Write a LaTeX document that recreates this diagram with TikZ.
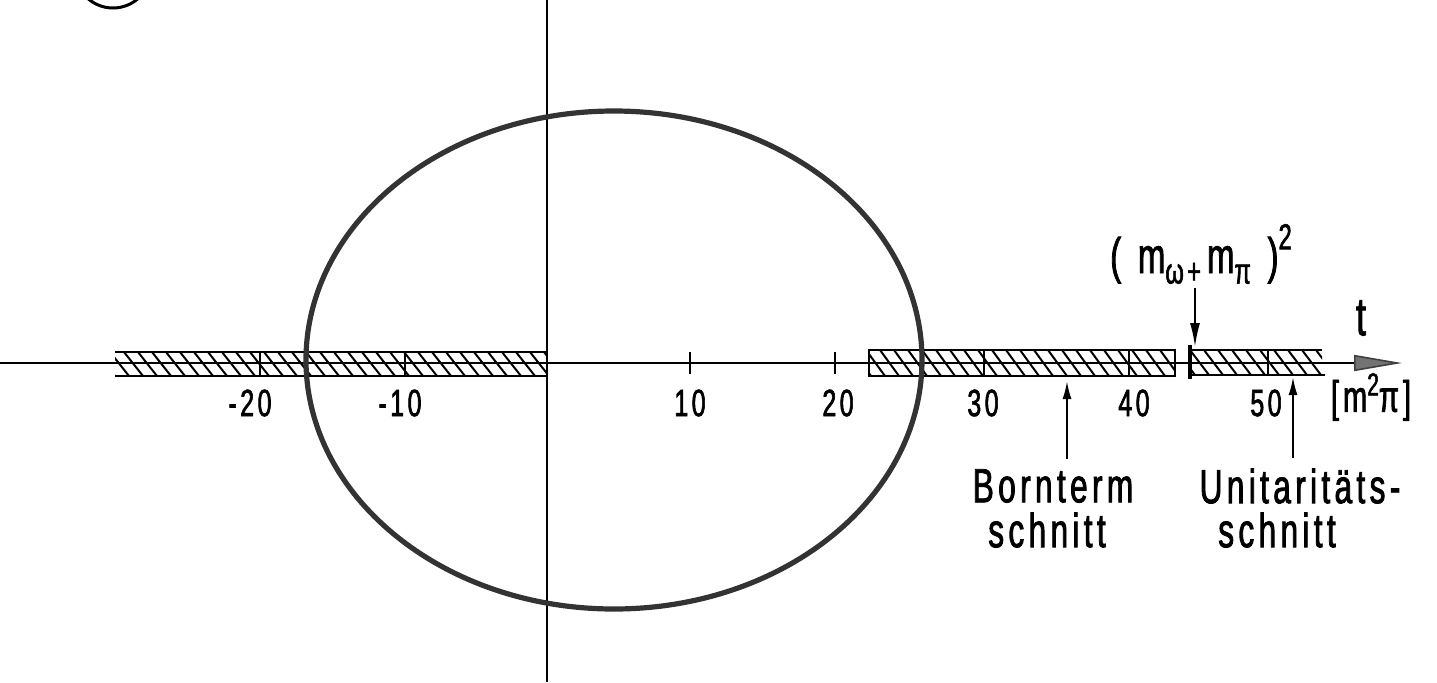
\documentclass[tikz,border=0pt]{standalone}
\usepackage{fontspec}
\setmainfont{Liberation Sans}[FakeStretch=0.66,LetterSpace=9,FakeBold=1.6]
\usetikzlibrary{arrows.meta}
\begin{document}
\begin{tikzpicture}[x=0.5pt,y=-0.5pt,
  axisline/.style={line width=0.8pt,black},
  hatchline/.style={line width=1pt,black},
  bandedge/.style={line width=1pt,black},
  tickmark/.style={line width=1pt,black},
  ellipseline/.style={line width=2.6pt,black!80},
  ptr/.style={line width=1pt,black,-{Latex[length=9pt,width=4.5pt]}},
  num/.style={inner sep=0pt,font=\fontsize{19pt}{19pt}\selectfont},
  lbl/.style={inner sep=0pt,font=\fontsize{24pt}{24pt}\selectfont},
]
\useasboundingbox (0,0) rectangle (1437,682);
\clip (0,0) rectangle (1437,682);

% figure-number circle (cut off at top)
\draw[line width=1.5pt] (113,-30) circle [radius=19pt];

% hatched bands
\begin{scope}
  \clip (115,352) rectangle (547,376);
  \foreach \h in {96,110,...,550} \draw[hatchline] (\h,352) -- ++(19,24);
\end{scope}
\draw[bandedge] (115,352) -- (547,352);
\draw[bandedge] (115,376) -- (547,376);

\begin{scope}
  \clip (869,350) rectangle (1175,376);
  \foreach \h in {852,866,...,1180} \draw[hatchline] (\h,350) -- ++(19,26);
\end{scope}
\draw[bandedge] (869,350) rectangle (1175,376);

\begin{scope}
  \clip (1190,350) rectangle (1322,375);
  \foreach \h in {1176,1190,...,1325} \draw[hatchline] (\h,350) -- ++(19,25);
\end{scope}
\draw[bandedge] (1190,350) -- (1322,350);
\draw[bandedge] (1190,375) -- (1325,375);
\draw[line width=1.6pt] (1190,345) -- (1190,379);

% ticks
\foreach \tx in {260,405} \draw[tickmark] (\tx,352) -- (\tx,376);
\foreach \tx in {690,835} \draw[tickmark] (\tx,352) -- (\tx,374);
\foreach \tx in {984,1129} \draw[tickmark] (\tx,350) -- (\tx,376);
\draw[tickmark] (1268,350) -- (1268,375);

% axes
\draw[axisline,-{Triangle[length=24pt,width=8pt,fill=black!55,color=black!75]}] (0,363) -- (1402,363);
\draw[line width=1pt] (547,0) -- (547,682);

% ellipse
\draw[ellipseline] (614,360) ellipse [x radius=154pt, y radius=124.5pt];

% tick labels
\node[num] (lm20) at (250,403) {-20};
\node[num] (lm10) at (400,403) {-10};
\node[num] (l10) at (690,403) {10};
\node[num] (l20) at (838,403) {20};
\node[num] (l30) at (983,403) {30};
\node[num] (l40) at (1134,403) {40};
\node[num] (l50) at (1266,403) {50};
\node[inner sep=0pt,font=\fontsize{22pt}{22pt}\selectfont] (unit) at (1371,397)
  {[m\raisebox{0.7ex}{\fontsize{16pt}{16pt}\selectfont 2}π]};
\node[inner sep=0pt,font=\fontsize{27pt}{27pt}\selectfont] (tlab) at (1361,318) {t};

% threshold label
\node[inner sep=0pt,font=\fontsize{25pt}{25pt}\selectfont] (mlab) at (1201,254)
  {(\,\,m\raisebox{-0.4ex}{\fontsize{18pt}{18pt}\selectfont ω+\,}m\raisebox{-0.4ex}{\fontsize{18pt}{18pt}\selectfont π}\,\,)\raisebox{0.9ex}{\fontsize{18pt}{18pt}\selectfont 2}};
\coordinate (mtip) at (1195,347);
\draw[line width=1pt,black,-{Latex[length=12pt,width=5pt]}] ([yshift=-2pt]mtip |- mlab.south) -- (mtip);

% Bornterm schnitt
\node[lbl] (born) at (1053,486) {Bornterm};
\node[lbl] (born2) at (1047,530) {schnitt};
\coordinate (borntip) at (1067,381);
\coordinate (borntail) at (borntip |- born.north);
\draw[ptr] ([yshift=5pt]borntail) -- (borntip);

% Unitaritaets schnitt
\node[lbl] (unit1) at (1300,486) {Unitaritäts-};
\node[lbl] (unit2) at (1277,530) {schnitt};
\coordinate (unittip) at (1293,377);
\coordinate (unittail) at (unittip |- unit1.north);
\draw[ptr] ([yshift=5pt]unittail) -- (unittip);
\end{tikzpicture}
\end{document}
